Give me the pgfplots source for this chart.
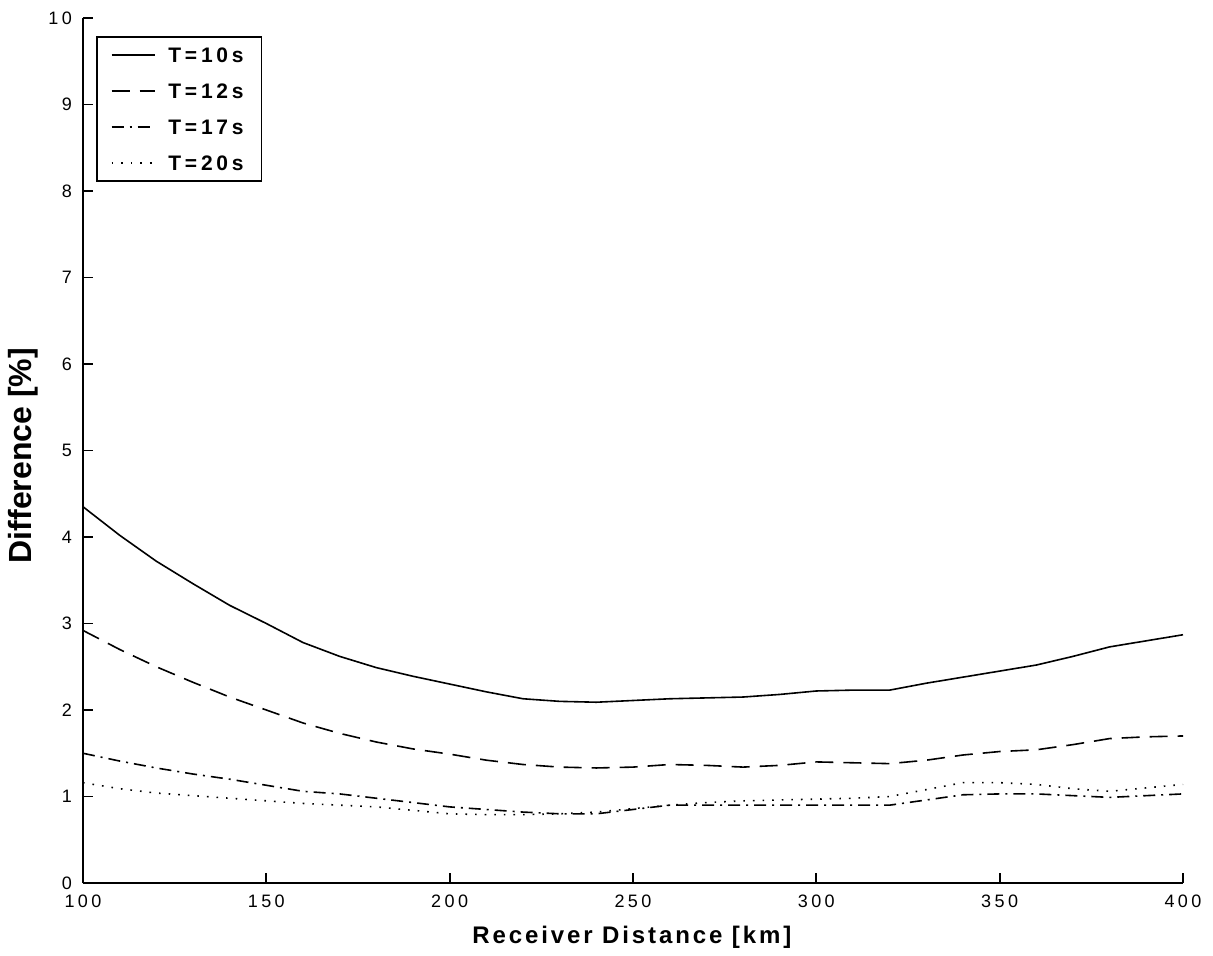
\documentclass[border=0pt]{standalone}
\usepackage{fontspec}
\setmainfont{Liberation Sans}
\usepackage{pgfplots}
\pgfplotsset{compat=1.18}
\newfontfamily\tickfont[LetterSpace=19]{Liberation Sans}
\newfontfamily\labfont[LetterSpace=12]{Liberation Sans}
\newfontfamily\legfont[LetterSpace=18]{Liberation Sans}

\begin{document}
\begin{tikzpicture}
\begin{axis}[
  name=ax,
  scale only axis,
  width=550pt, height=432.5pt,
  xmin=100, xmax=400, ymin=0, ymax=10,
  xtick={100,150,...,400}, ytick={0,1,...,10},
  axis x line*=bottom, axis y line*=left,
  axis line style={line width=0.9pt, -},
  tick align=inside, major tick length=5pt,
  tick style={line width=0.9pt, black},
  /pgf/number format/assume math mode=true,
  ticklabel style={font=\tickfont\fontsize{9}{11}\selectfont},
  yticklabel style={xshift=-2pt},
  xticklabel style={yshift=-2.5pt},
  xlabel={Receiver Distance [km]},
  ylabel={Difference [\%]},
  xlabel style={font=\labfont\bfseries\fontsize{12}{14}\selectfont,
    at={(axis description cs:0.499,-0.0624)}, anchor=center},
  ylabel style={font=\bfseries\fontsize{16}{18}\selectfont,
    at={(axis description cs:-0.0545,0.494)}, anchor=center},
  legend style={at={(axis description cs:0.0118,0.979)}, anchor=north west,
    draw=black, line width=0.8pt,
    font=\legfont\bfseries\fontsize{10.5}{12}\selectfont,
    row sep=6.4pt, column sep=4.5pt,
    inner xsep=7pt, inner ysep=3.2pt,
    nodes={inner ysep=2pt, text height=7.6pt, text depth=0pt}},
  legend cell align=left,
  legend image code/.code={\draw[#1] (0pt,0pt) -- (21.5pt,0pt);},
  every axis plot/.append style={black, line width=0.8pt},
]
\addplot[solid] coordinates {
(100,4.35)(110,4.02)(120,3.72)(130,3.46)(140,3.21)(150,3.00)(160,2.78)(170,2.62)(180,2.49)
(190,2.39)(200,2.30)(210,2.21)(220,2.13)(230,2.10)(240,2.09)(250,2.11)(260,2.13)
(270,2.14)(280,2.15)(290,2.18)(300,2.22)(310,2.23)(320,2.23)(330,2.31)(340,2.38)
(350,2.45)(360,2.52)(370,2.62)(380,2.73)(390,2.80)(400,2.87)};
\addlegendentry{T=10s}
\addplot[dash pattern=on 9pt off 5pt] coordinates {
(100,2.92)(110,2.70)(120,2.50)(130,2.32)(140,2.15)(150,2.00)(160,1.85)(170,1.73)(180,1.63)
(190,1.55)(200,1.49)(210,1.42)(220,1.37)(230,1.34)(240,1.33)(250,1.34)(260,1.37)
(270,1.36)(280,1.34)(290,1.36)(300,1.40)(310,1.39)(320,1.38)(330,1.42)(340,1.48)
(350,1.52)(360,1.54)(370,1.60)(380,1.67)(390,1.69)(400,1.70)};
\addlegendentry{T=12s}
\addplot[dash pattern=on 6pt off 3pt on 1pt off 3pt] coordinates {
(100,1.50)(110,1.41)(120,1.33)(130,1.26)(140,1.20)(150,1.13)(160,1.06)(170,1.03)(180,0.98)
(190,0.93)(200,0.88)(210,0.85)(220,0.82)(230,0.80)(240,0.80)(250,0.85)(260,0.90)
(270,0.90)(280,0.90)(290,0.90)(300,0.90)(310,0.90)(320,0.90)(330,0.96)(340,1.02)
(350,1.03)(360,1.03)(370,1.01)(380,0.99)(390,1.01)(400,1.03)};
\addlegendentry{T=17s}
\addplot[dash pattern=on 0.8pt off 4pt] coordinates {
(100,1.16)(110,1.09)(120,1.04)(130,1.01)(140,0.98)(150,0.95)(160,0.92)(170,0.90)(180,0.88)
(190,0.84)(200,0.80)(210,0.79)(220,0.79)(230,0.80)(240,0.82)(250,0.86)(260,0.90)
(270,0.93)(280,0.95)(290,0.96)(300,0.97)(310,0.98)(320,1.00)(330,1.08)(340,1.16)
(350,1.16)(360,1.14)(370,1.09)(380,1.06)(390,1.10)(400,1.14)};
\addlegendentry{T=20s}
\end{axis}
\pgfresetboundingbox
\path[use as bounding box] ([shift={(-41.5pt,-36pt)}]ax.south west)
  rectangle ([shift={(15pt,9pt)}]ax.north east);
\end{tikzpicture}
\end{document}
